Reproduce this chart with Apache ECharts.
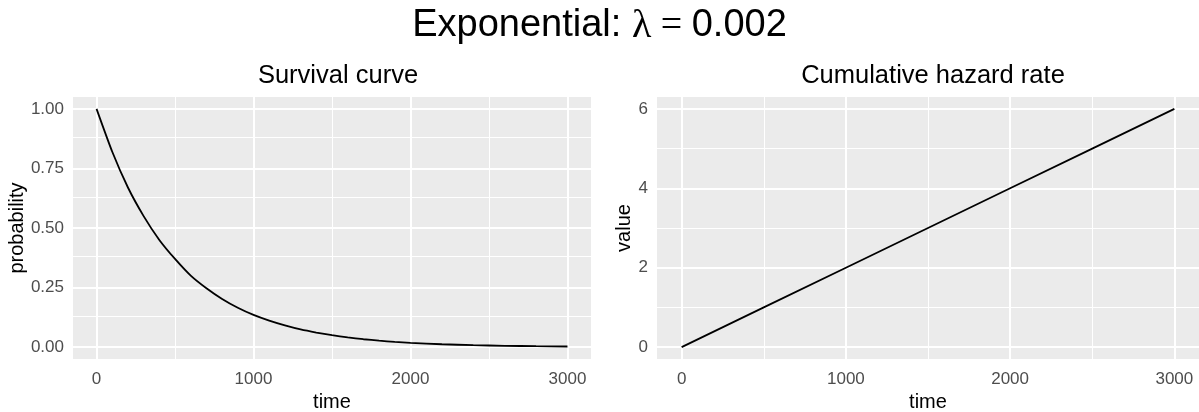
<!DOCTYPE html>
<html><head><meta charset="utf-8">
<script src="https://cdn.jsdelivr.net/npm/echarts@6/dist/echarts.min.js"></script>
<style>html,body{margin:0;padding:0;background:#fff}#c{width:1199px;height:412px}</style>
</head><body><div id="c"></div>
<script>
// ---- data ----
const survivalTime = [0,100,200,300,400,500,600,700,800,900,1000,1100,1200,1300,1400,1500,1600,1700,1800,1900,2000,2200,2400,2600,2800,3000];
const survivalProb = [1.00,0.82,0.67,0.55,0.45,0.37,0.30,0.247,0.202,0.165,0.135,0.111,0.091,0.074,0.061,0.050,0.041,0.033,0.027,0.022,0.018,0.012,0.008,0.0055,0.0037,0.0025];
const hazardTime = [0,500,1000,1500,2000,2500,3000];
const hazardValue = [0,1,2,3,4,5,6];
const timeTicks = [0,1000,2000,3000];
const timeMinor = [500,1500,2500];
const probTicks = [0,0.25,0.5,0.75,1];
const probMinor = [0.125,0.375,0.625,0.875];
const hazardTicks = [0,2,4,6];
const hazardMinor = [1,3,5];

const FONT = 'Liberation Sans, Arial, sans-serif';
const chart = echarts.init(document.getElementById('c'), null, {renderer:'canvas'});

function gridLines(xMaj, xMin, yMaj, yMin) {
  const d = [];
  xMin.forEach(v => d.push({xAxis: v, lineStyle:{width:1}}));
  yMin.forEach(v => d.push({yAxis: v, lineStyle:{width:1}}));
  xMaj.forEach(v => d.push({xAxis: v, lineStyle:{width:2}}));
  yMaj.forEach(v => d.push({yAxis: v, lineStyle:{width:2}}));
  return {
    silent: true, symbol: ['none','none'], animation: false,
    label: {show:false}, emphasis: {disabled:true},
    lineStyle: {color:'#FFFFFF', type:'solid'},
    data: d
  };
}

function xAxisFor(gi) {
  return {
    type:'value', gridIndex: gi, min: -150, max: 3150,
    name: 'time', nameLocation: 'middle', nameGap: 32,
    nameTextStyle: {fontFamily: FONT, fontSize: 20, color:'#000'},
    axisLine: {show:false},
    axisTick: {show:true, length:5, lineStyle:{color:'#333333', width:1}, customValues: timeTicks},
    axisLabel: {fontFamily: FONT, fontSize: 17, color:'#4D4D4D', margin: 12, customValues: timeTicks, formatter: v => String(v)},
    splitLine: {show:false}
  };
}

function yAxisFor(gi, min, max, ticks, name, gap, fmt) {
  return {
    type:'value', gridIndex: gi, min: min, max: max,
    name: name, nameLocation: 'middle', nameGap: gap, nameRotate: 90,
    nameTextStyle: {fontFamily: FONT, fontSize: 20, color:'#000'},
    axisLine: {show:false},
    axisTick: {show:true, length:5, lineStyle:{color:'#333333', width:1}, customValues: ticks},
    axisLabel: {fontFamily: FONT, fontSize: 17, color:'#4D4D4D', margin: 9, customValues: ticks, formatter: fmt},
    splitLine: {show:false}
  };
}

const option = {
  animation: false,
  backgroundColor: '#FFFFFF',
  title: [
    {text: '{a|Exponential: }{b|λ}{c| = }{a|0.002}', left: 'center', top: 1,
     textStyle: {fontWeight: 'normal', rich: {
       a: {fontFamily: FONT, fontSize: 38, fontWeight: 'normal', color:'#000'},
       b: {fontFamily: 'Liberation Serif, DejaVu Serif, serif', fontSize: 40, fontWeight: 'normal', color:'#000'},
       c: {fontFamily: 'Liberation Serif, DejaVu Serif, serif', fontSize: 38, fontWeight: 'normal', color:'#000'}
     }}},
    {text: 'Survival curve', left: 333, top: 58, textAlign: 'center',
     textStyle: {fontFamily: FONT, fontSize: 25.5, fontWeight: 'normal', color:'#000'}},
    {text: 'Cumulative hazard rate', left: 928, top: 58, textAlign: 'center',
     textStyle: {fontFamily: FONT, fontSize: 25.5, fontWeight: 'normal', color:'#000'}}
  ],
  grid: [
    {left: 73, right: 608, top: 97, bottom: 53, show: true, backgroundColor:'#EBEBEB', borderWidth: 0, containLabel: false, outerBoundsMode: 'none'},
    {left: 657, right: 0, top: 97, bottom: 53, show: true, backgroundColor:'#EBEBEB', borderWidth: 0, containLabel: false, outerBoundsMode: 'none'}
  ],
  xAxis: [xAxisFor(0), xAxisFor(1)],
  yAxis: [
    yAxisFor(0, -0.05, 1.05, probTicks, 'probability', 42, v => v.toFixed(2)),
    yAxisFor(1, -0.3, 6.3, hazardTicks, 'value', 23, v => String(v))
  ],
  series: [
    {type:'line', xAxisIndex:0, yAxisIndex:0, data: [], z: 1, silent: true,
     markLine: gridLines(timeTicks, timeMinor, probTicks, probMinor)},
    {type:'line', xAxisIndex:1, yAxisIndex:1, data: [], z: 1, silent: true,
     markLine: gridLines(timeTicks, timeMinor, hazardTicks, hazardMinor)},
    {type:'line', xAxisIndex:0, yAxisIndex:0, zlevel: 1, z: 3, showSymbol:false, smooth: 0.2,
     lineStyle:{color:'#000', width:1.8},
     data: survivalTime.map((t,i) => [t, survivalProb[i]])},
    {type:'line', xAxisIndex:1, yAxisIndex:1, zlevel: 1, z: 3, showSymbol:false,
     lineStyle:{color:'#000', width:1.8},
     data: hazardTime.map((t,i) => [t, hazardValue[i]])}
  ]
};
chart.setOption(option);
</script>
</body></html>
